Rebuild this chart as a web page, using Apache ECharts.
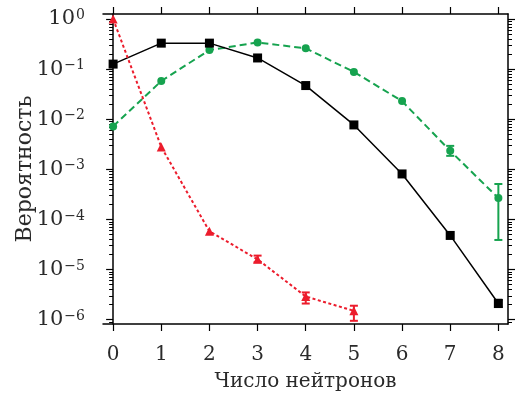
<!DOCTYPE html>
<html>
<head>
<meta charset="utf-8">
<script src="https://cdn.jsdelivr.net/npm/echarts@6/dist/echarts.min.js"></script>
<style>
  html, body { margin: 0; padding: 0; background: #fff; }
  #chart { width: 518px; height: 396px; }
</style>
</head>
<body>
<div id="chart"></div>
<script>
// число нейтронов
const neutrons = [0, 1, 2, 3, 4, 5, 6, 7, 8];
const blackVals = [0.126, 0.33, 0.33, 0.167, 0.047, 0.0077, 8.1e-4, 4.8e-5, 2.1e-6];
const greenVals = [0.0072, 0.058, 0.24, 0.34, 0.26, 0.088, 0.023, 0.00234, 2.67e-4];
const redVals = [1.0, 2.8e-3, 5.8e-5, 1.6e-5, 2.9e-6, 1.5e-6];
// error bars: [x, low, high]
const blackErr = [[8, 1.8e-6, 2.5e-6]];
const greenErr = [[7, 1.86e-3, 2.94e-3], [8, 3.9e-5, 5.1e-4]];
const redErr = [[3, 1.4e-5, 1.9e-5], [4, 2.1e-6, 3.5e-6], [5, 0.95e-6, 1.9e-6]];
const yTickLabels = [1e-6, 1e-5, 1e-4, 1e-3, 1e-2, 1e-1, 1];
const xTickLabels = [0, 1, 2, 3, 4, 5, 6, 7, 8];

const FONT = 'DejaVu Serif';
const TXT = '#2a2a2a';
const BLACK = '#000000';
const GREEN = '#16a34f';
const RED = '#ec1c2c';

const yMin = Math.pow(10, -6.086);
const yMax = Math.pow(10, 0.1);
const xMin = -0.21, xMax = 8.2;

const minorVals = [];
for (let e = -7; e <= 0; e++) {
  for (let k = 2; k <= 9; k++) {
    const v = k * Math.pow(10, e);
    if (v > yMin && v < yMax) minorVals.push(v);
  }
}

const sup = (v) => {
  const e = Math.round(Math.log10(v));
  return '{b|10}{s|' + (e < 0 ? '\u2212' + (-e) : e) + '}';
};

const pair = (xs, ys) => ys.map((v, i) => [xs[i], v]);

function errorBar(color) {
  return function (params, api) {
    const x = api.value(0);
    const lo = api.coord([x, api.value(1)]);
    const hi = api.coord([x, api.value(2)]);
    const w = 4;
    const style = { stroke: color, lineWidth: 2 };
    return {
      type: 'group',
      children: [
        { type: 'line', shape: { x1: lo[0], y1: lo[1], x2: hi[0], y2: hi[1] }, style },
        { type: 'line', shape: { x1: lo[0] - w, y1: lo[1], x2: lo[0] + w, y2: lo[1] }, style },
        { type: 'line', shape: { x1: hi[0] - w, y1: hi[1], x2: hi[0] + w, y2: hi[1] }, style }
      ]
    };
  };
}

const yBase = {
  type: 'log', min: yMin, max: yMax, gridIndex: 0,
  splitLine: { show: false }, minorTick: { show: false }
};
const axisLine = { show: true, lineStyle: { color: '#000', width: 1.5 } };

const chart = echarts.init(document.getElementById('chart'));
chart.setOption({
  animation: false,
  grid: { left: 103, right: 10, top: 14, bottom: 72, outerBoundsMode: 'none' },
  xAxis: [
    {
      type: 'value', min: xMin, max: xMax, position: 'bottom',
      name: 'Число нейтронов', nameLocation: 'middle', nameGap: 48, nameMoveOverlap: false,
      nameTextStyle: { fontFamily: FONT, fontSize: 20, color: TXT },
      axisLine,
      axisTick: { show: true, inside: false, length: 7, customValues: xTickLabels, lineStyle: { color: '#000', width: 1.2 } },
      axisLabel: { customValues: xTickLabels, margin: 21, fontFamily: FONT, fontSize: 20, color: TXT },
      splitLine: { show: false }
    },
    {
      type: 'value', min: xMin, max: xMax, position: 'top',
      axisLine,
      axisTick: { show: true, inside: false, length: 7, customValues: xTickLabels, lineStyle: { color: '#000', width: 1.2 } },
      axisLabel: { show: false },
      splitLine: { show: false }
    }
  ],
  yAxis: [
    Object.assign({}, yBase, {
      position: 'left',
      name: 'Вероятность', nameLocation: 'middle', nameGap: 67, nameMoveOverlap: false,
      nameTextStyle: { fontFamily: FONT, fontSize: 22, color: TXT },
      axisLine,
      axisTick: { show: true, inside: false, length: 7, customValues: yTickLabels, lineStyle: { color: '#000', width: 1.2 } },
      axisLabel: {
        customValues: yTickLabels, margin: 18, formatter: sup,
        rich: {
          b: { fontFamily: FONT, fontSize: 21, color: TXT, verticalAlign: 'bottom' },
          s: { fontFamily: FONT, fontSize: 14, color: TXT, verticalAlign: 'top', padding: [0, 0, 0, 1] }
        }
      }
    }),
    Object.assign({}, yBase, {
      position: 'left',
      axisLine: { show: false },
      axisTick: { show: true, inside: false, length: 4, customValues: minorVals, lineStyle: { color: '#000', width: 1 } },
      axisLabel: { show: false }
    }),
    Object.assign({}, yBase, {
      position: 'right',
      axisLine,
      axisTick: { show: true, inside: false, length: 7, customValues: yTickLabels, lineStyle: { color: '#000', width: 1.2 } },
      axisLabel: { show: false }
    }),
    Object.assign({}, yBase, {
      position: 'right',
      axisLine: { show: false },
      axisTick: { show: true, inside: false, length: 4, customValues: minorVals, lineStyle: { color: '#000', width: 1 } },
      axisLabel: { show: false }
    })
  ],
  series: [
    {
      type: 'line', data: pair(neutrons, greenVals), symbol: 'circle', symbolSize: 8,
      itemStyle: { color: GREEN }, lineStyle: { color: GREEN, width: 2, type: [7, 4] }, z: 3
    },
    {
      type: 'custom', data: greenErr, renderItem: errorBar(GREEN), encode: { x: 0, y: [1, 2] }, z: 3
    },
    {
      type: 'line', data: pair(neutrons, blackVals), symbol: 'rect', symbolSize: 9,
      itemStyle: { color: BLACK }, lineStyle: { color: BLACK, width: 1.5 }, z: 4
    },
    {
      type: 'custom', data: blackErr, renderItem: errorBar(BLACK), encode: { x: 0, y: [1, 2] }, z: 4
    },
    {
      type: 'line', data: pair(neutrons, redVals), symbol: 'triangle', symbolSize: 9,
      itemStyle: { color: RED }, lineStyle: { color: RED, width: 2, type: [3, 2.5] }, z: 5
    },
    {
      type: 'custom', data: redErr, renderItem: errorBar(RED), encode: { x: 0, y: [1, 2] }, z: 5
    }
  ]
});
</script>
</body>
</html>
